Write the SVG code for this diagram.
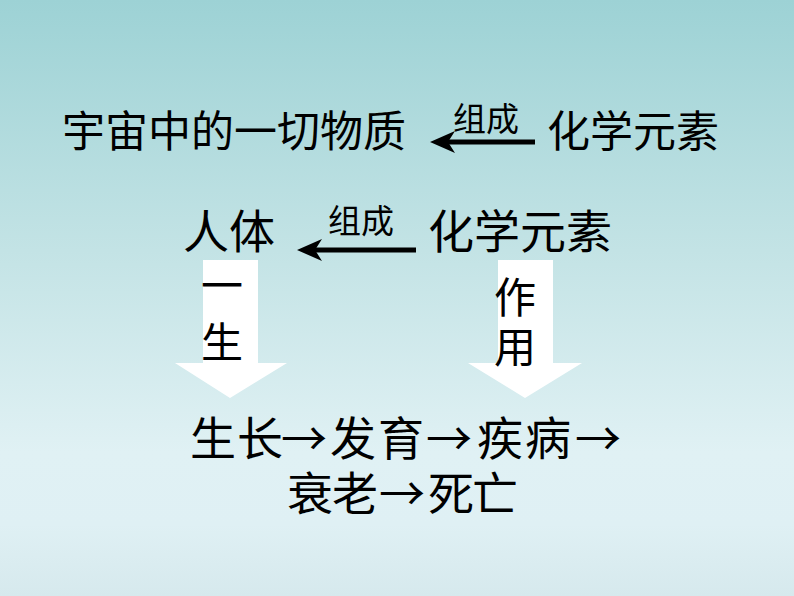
<svg xmlns="http://www.w3.org/2000/svg" width="794" height="596" viewBox="0 0 794 596">
  <defs>
    <linearGradient id="bg" x1="0" y1="0" x2="0" y2="1">
      <stop offset="0" stop-color="#9dd2d5"/>
      <stop offset="0.42" stop-color="#c3e3e5"/>
      <stop offset="0.76" stop-color="#e0f1f4"/>
      <stop offset="0.88" stop-color="#dff0f4"/>
      <stop offset="1" stop-color="#d6e9ed"/>
    </linearGradient>
    <marker id="head" markerUnits="userSpaceOnUse" markerWidth="30" markerHeight="26" refX="15" refY="13" orient="auto" viewBox="0 0 30 26">
      <path d="M0,2 L25,13 L0,24 L7,13 Z" fill="#000"/>
    </marker>
    <style>
      text { font-family: "Noto Sans CJK SC", "Noto Sans CJK JP", sans-serif; fill: #000; }
      .big { font-size: 43px; }
      .big2 { font-size: 46px; }
      .small { font-size: 33px; }
      .vert { font-size: 42px; }
      .link { stroke: #000; stroke-width: 5; fill: none; marker-end: url(#head); }
      .block { fill: #fff; stroke: none; }
    </style>
  </defs>
  <rect x="0" y="0" width="794" height="596" fill="url(#bg)"/>

  <g id="connectors">
    <g id="arrow-universe">
      <line class="link" x1="535" y1="142" x2="440" y2="142"/>
      <text class="small" x="453" y="131">组成</text>
    </g>
    <g id="arrow-body">
      <line class="link" x1="416" y1="250" x2="307" y2="250"/>
      <text class="small" x="328" y="233">组成</text>
    </g>
    <g id="arrow-life">
      <path class="block" d="M203,260 H258 V363 H287 L230,398 L175,363 H203 Z"/>
      <text class="vert" x="201" y="301">一</text>
      <text class="vert" x="201" y="358">生</text>
    </g>
    <g id="arrow-effect">
      <path class="block" d="M498,260 H553 V363 H582 L525,398 L468,363 H498 Z"/>
      <text class="vert" x="494" y="313">作</text>
      <text class="vert" x="494" y="363">用</text>
    </g>
  </g>

  <g id="node-universe">
    <text class="big" x="62" y="147">宇宙中的一切物质</text>
  </g>
  <g id="node-elements-1">
    <text class="big" x="547" y="147">化学元素</text>
  </g>
  <g id="node-body">
    <text class="big2" x="183" y="248">人体</text>
  </g>
  <g id="node-elements-2">
    <text class="big2" x="428" y="248">化学元素</text>
  </g>
  <g id="node-lifecycle">
    <text class="big2" x="190 237 281 330 378 426 477 525 575" y="455">生长→发育→疾病→</text>
    <text class="big2" x="287 332 379 428 472" y="510">衰老→死亡</text>
  </g>
</svg>
